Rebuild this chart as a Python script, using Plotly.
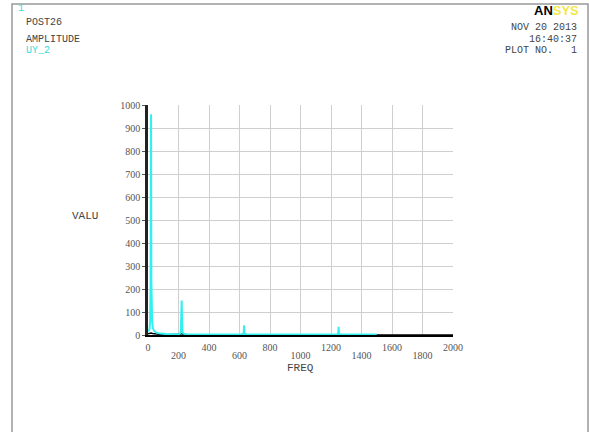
import plotly.graph_objects as go

# ---- data ----
freq = [0, 5, 10, 14, 17, 19, 20, 21, 22, 24, 27, 32, 40, 55, 80, 120, 170, 200, 212, 216, 219, 221, 223, 226, 232, 250, 300, 400, 500, 600,
        624, 628, 630, 632, 634, 638, 700, 900, 1100, 1200, 1243, 1248, 1250, 1252, 1256, 1300, 1400, 1500]
amp = [15, 18, 25, 60, 220, 720, 960, 560, 240, 130, 60, 30, 18, 10, 6, 4, 3, 3, 6, 25, 110, 150, 70, 15, 6, 3, 2, 2, 2, 2,
       3, 12, 42, 12, 3, 2, 2, 2, 2, 2, 3, 12, 36, 10, 3, 2, 2, 2]
freq_b = [0, 10, 20, 30, 50, 80, 120, 180, 210, 220, 230, 260, 400, 600, 630, 660, 1000, 1500, 2000]
amp_b = [5, 8, 9, 7, 4, 2.5, 1.5, 1, 3, 6, 3, 1, 0.5, 0.5, 3, 0.5, 0, 0, 0]
xticks_upper = [0, 400, 800, 1200, 1600, 2000]
xticks_lower = [200, 600, 1000, 1400, 1800]
yticks = [0, 100, 200, 300, 400, 500, 600, 700, 800, 900, 1000]

W, H = 589, 432
L, R, T, B = 148, 453, 105, 335

def px(x):
    return (x - L) / (R - L)

def py(y):
    return (B - y) / (B - T)

font = "Liberation Serif"
mono = "Liberation Mono"
tickfont = dict(family=font, size=10, color="#555")

fig = go.Figure()
fig.add_trace(go.Scatter(x=freq_b, y=amp_b, mode="lines",
                         line=dict(color="black", width=1.5), hoverinfo="skip"))
fig.add_trace(go.Scatter(x=freq, y=amp, mode="lines",
                         line=dict(color="#33f0f0", width=2)))
fig.add_trace(go.Scatter(x=[0, 2000], y=[0, 0], xaxis="x2", mode="lines",
                         line=dict(width=0), opacity=0, hoverinfo="skip"))

all_x = sorted(xticks_upper + xticks_lower)
fig.update_layout(
    width=W, height=H,
    margin=dict(l=L, r=W - R, t=T, b=H - B),
    paper_bgcolor="white", plot_bgcolor="white",
    showlegend=False,
    font=dict(family=font, size=10, color="#555"),
    xaxis=dict(range=[0, 2000], tickvals=all_x,
               ticktext=[str(v) if v in xticks_upper else "" for v in all_x],
               showgrid=True, gridcolor="#cfcfcf", gridwidth=1,
               zeroline=False, showline=True, linecolor="black", linewidth=2,
               ticks="outside", ticklen=2, tickcolor="rgba(0,0,0,0)", tickfont=tickfont),
    xaxis2=dict(range=[0, 2000], overlaying="x", anchor="y", side="bottom",
                tickvals=xticks_lower, showgrid=False, zeroline=False,
                showline=False, ticks="outside", ticklen=11,
                tickcolor="rgba(0,0,0,0)", tickfont=tickfont),
    yaxis=dict(range=[0, 1000], tickvals=yticks,
               showgrid=True, gridcolor="#cfcfcf", gridwidth=1,
               zeroline=False, showline=True, linecolor="#222", linewidth=2.5,
               ticks="outside", ticklen=3, tickcolor="#555",
               tickfont=tickfont),
)

anns = [
    dict(text="1", x=16, y=8, color="#33dddd", anchor="left", size=10),
    dict(text="POST26", x=24, y=22, color="#444", anchor="left", size=10),
    dict(text="AMPLITUDE", x=24, y=39, color="#444", anchor="left", size=10),
    dict(text="UY_2", x=24, y=50, color="#33dddd", anchor="left", size=10),
    dict(text="NOV 20 2013", x=579, y=28, color="#444", anchor="right", size=10),
    dict(text="16:40:37", x=579, y=39, color="#444", anchor="right", size=10),
    dict(text="PLOT NO.   1", x=579, y=50, color="#444", anchor="right", size=10),
    dict(text="VALU", x=85, y=216, color="#444", anchor="center", size=11),
    dict(text="FREQ", x=300, y=368, color="#444", anchor="center", size=11),
]
for a in anns:
    fig.add_annotation(text=a["text"], xref="paper", yref="paper",
                       x=px(a["x"]), y=py(a["y"]), xanchor=a["anchor"], yanchor="middle",
                       showarrow=False,
                       font=dict(family=mono, size=a["size"], color=a["color"]))

fig.add_annotation(text="<b>AN</b><span style='color:#f2e84a'><b>SYS</b></span>",
                   xref="paper", yref="paper", x=px(581), y=py(11),
                   xanchor="right", yanchor="middle", showarrow=False,
                   font=dict(family="Liberation Sans", size=13, color="black"))

fig.add_shape(type="rect", xref="paper", yref="paper",
              x0=px(12), x1=px(588), y0=py(440), y1=py(4),
              line=dict(color="#999", width=1.5), fillcolor="rgba(0,0,0,0)", layer="below")

fig.write_html("out.html", config={"displayModeBar": False},
               post_script="document.body.style.margin='0';")
